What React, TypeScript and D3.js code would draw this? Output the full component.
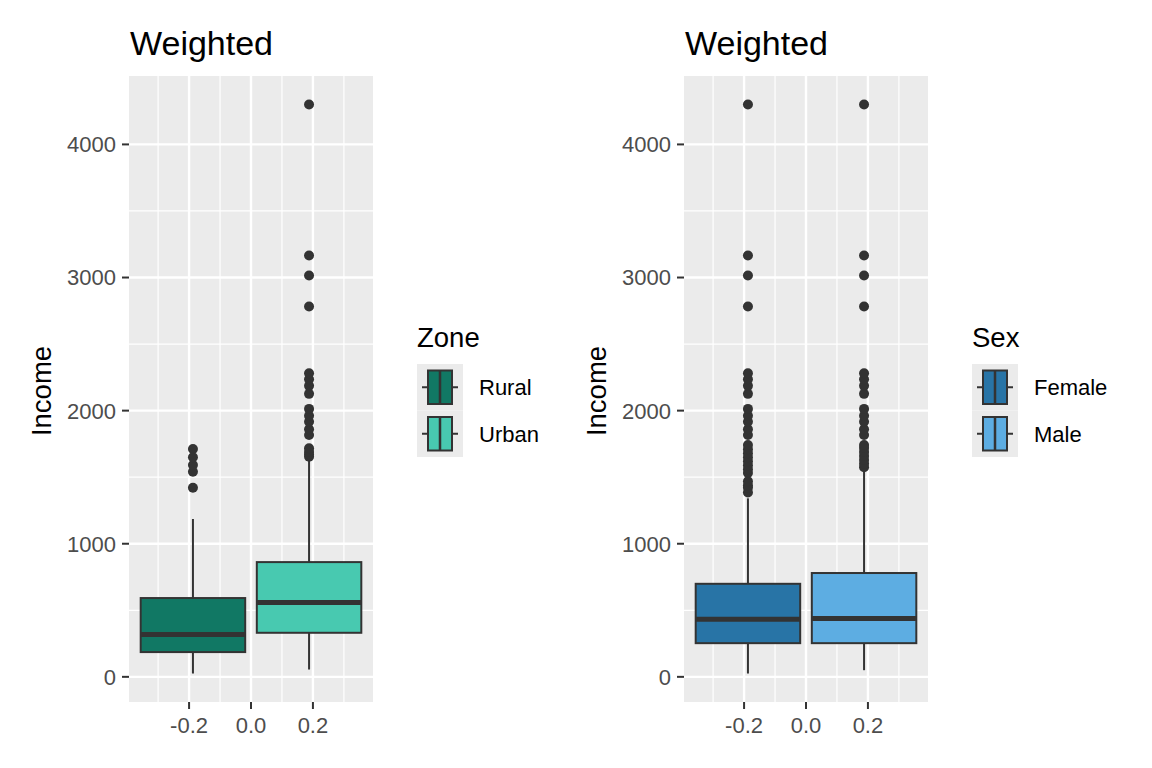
import React from "react";
import * as d3 from "d3";

// box stats: [lower whisker, q1, median, q3, upper whisker]
const zoneGroups = ["Rural", "Urban"];
const zoneColors = ["#117864", "#48C9B0"];
const zoneStats: [number, number, number, number, number][] = [
    [25, 186, 319, 592, 1186],
    [55, 331, 559, 862, 1630],
];
const zoneOutliers: number[][] = [
    [1420, 1541, 1592, 1650, 1712],
    [1654, 1670, 1690, 1717, 1817, 1860, 1917, 1962, 2013, 2126, 2186, 2236, 2281, 2782, 3015, 3166, 4300],
];

const sexGroups = ["Female", "Male"];
const sexColors = ["#2874A6", "#5DADE2"];
const sexStats: [number, number, number, number, number][] = [
    [25, 253, 432, 699, 1341],
    [50, 253, 439, 780, 1560],
];
const sexOutliers: number[][] = [
    [1385, 1420, 1440, 1470, 1531, 1560, 1590, 1620, 1650, 1680, 1710, 1742, 1817, 1860, 1917, 1962, 2013, 2126, 2186, 2236, 2281, 2782, 3015, 3166, 4300],
    [1575, 1600, 1630, 1660, 1690, 1720, 1742, 1817, 1860, 1917, 1962, 2013, 2126, 2186, 2236, 2281, 2782, 3015, 3166, 4300],
];

const yTicks = [0, 1000, 2000, 3000, 4000];
const yMinor = [500, 1500, 2500, 3500];
const xTicks = [-0.2, 0.0, 0.2];
const xMinor = [-0.3, -0.1, 0.1, 0.3];
const groupCenters = [-0.1875, 0.1875];

const font = "'Liberation Sans', Arial, sans-serif";
const panelTop = 76;
const panelBottom = 702;
const panelWidth = 244;
const boxHalf = 0.16875;

interface PanelProps {
    left: number;
    groups: string[];
    colors: string[];
    stats: [number, number, number, number, number][];
    outliers: number[][];
    legendTitle: string;
    legendX: number;
}

function Panel(props: PanelProps) {
    const {left, groups, colors, stats, outliers, legendTitle, legendX} = props;

    const x = d3.scaleLinear()
        .domain([-0.394, 0.394])
        .range([left, left + panelWidth]);
    const y = d3.scaleLinear()
        .domain([-189, 4514])
        .range([panelBottom, panelTop]);

    // R prints a plain hyphen, d3 a unicode minus
    const fmt = (v: number) => d3.format(".1f")(v).replace("\u2212", "-");
    const keyH = 46.5;
    const legendTop = 364;

    return (
        <g>
            <text x={left + 1} y={55} fontSize={34} fontFamily={font} fill="#000">Weighted</text>
            <rect x={left} y={panelTop} width={panelWidth} height={panelBottom - panelTop} fill="#EBEBEB"/>
            {yMinor.map(v => (
                <line key={"ym" + v} x1={left} x2={left + panelWidth} y1={y(v)} y2={y(v)} stroke="#fff" strokeWidth={1.2}/>
            ))}
            {xMinor.map(v => (
                <line key={"xm" + v} x1={x(v)} x2={x(v)} y1={panelTop} y2={panelBottom} stroke="#fff" strokeWidth={1.2}/>
            ))}
            {yTicks.map(v => (
                <line key={"yM" + v} x1={left} x2={left + panelWidth} y1={y(v)} y2={y(v)} stroke="#fff" strokeWidth={2.4}/>
            ))}
            {xTicks.map(v => (
                <line key={"xM" + v} x1={x(v)} x2={x(v)} y1={panelTop} y2={panelBottom} stroke="#fff" strokeWidth={2.4}/>
            ))}

            {groups.map((g, i) => {
                const [lo, q1, med, q3, hi] = stats[i];
                const cx = x(groupCenters[i]);
                const x0 = x(groupCenters[i] - boxHalf);
                const x1 = x(groupCenters[i] + boxHalf);
                return (
                    <g key={g}>
                        <line x1={cx} x2={cx} y1={y(lo)} y2={y(q1)} stroke="#333" strokeWidth={2}/>
                        <line x1={cx} x2={cx} y1={y(q3)} y2={y(hi)} stroke="#333" strokeWidth={2}/>
                        <rect x={x0} y={y(q3)} width={x1 - x0} height={y(q1) - y(q3)}
                              fill={colors[i]} stroke="#333" strokeWidth={2}/>
                        <line x1={x0} x2={x1} y1={y(med)} y2={y(med)} stroke="#333" strokeWidth={5}/>
                        {outliers[i].map((o, j) => (
                            <circle key={j} cx={cx} cy={y(o)} r={5} fill="#333"/>
                        ))}
                    </g>
                );
            })}

            {yTicks.map(v => (
                <g key={"yt" + v}>
                    <line x1={left - 7} x2={left} y1={y(v)} y2={y(v)} stroke="#333" strokeWidth={2}/>
                    <text x={left - 13} y={y(v)} dy="0.36em" textAnchor="end" fontSize={22}
                          fontFamily={font} fill="#4D4D4D">{v}</text>
                </g>
            ))}
            {xTicks.map(v => (
                <g key={"xt" + v}>
                    <line x1={x(v)} x2={x(v)} y1={panelBottom} y2={panelBottom + 7} stroke="#333" strokeWidth={2}/>
                    <text x={x(v)} y={733} textAnchor="middle" fontSize={22}
                          fontFamily={font} fill="#4D4D4D">{fmt(v)}</text>
                </g>
            ))}
            <text transform={`translate(${left - 78},${(panelTop + panelBottom) / 2 + 2}) rotate(-90)`}
                  textAnchor="middle" fontSize={27.5} fontFamily={font} fill="#000">Income</text>

            <text x={legendX} y={347} fontSize={27.5} fontFamily={font} fill="#000">{legendTitle}</text>
            {groups.map((g, i) => {
                const top = legendTop + i * keyH;
                const cy = top + keyH / 2;
                return (
                    <g key={"lg" + g}>
                        <rect x={legendX} y={top} width={46} height={keyH} fill="#EBEBEB"/>
                        <line x1={legendX + 5} x2={legendX + 41} y1={cy} y2={cy} stroke="#333" strokeWidth={2}/>
                        <rect x={legendX + 11} y={top + 6.5} width={24} height={keyH - 13}
                              fill={colors[i]} stroke="#333" strokeWidth={2}/>
                        <line x1={legendX + 23} x2={legendX + 23} y1={top + 6.5} y2={top + keyH - 6.5}
                              stroke="#333" strokeWidth={2.5}/>
                        <text x={legendX + 62} y={cy} dy="0.36em" fontSize={22} fontFamily={font}
                              fill="#000">{g}</text>
                    </g>
                );
            })}
        </g>
    );
}

export default function App() {
    return (
        <svg width={1152} height={768} style={{position: "absolute", left: 0, top: 0, background: "white"}}>
            <Panel left={129} groups={zoneGroups} colors={zoneColors} stats={zoneStats}
                   outliers={zoneOutliers} legendTitle="Zone" legendX={417}/>
            <Panel left={684} groups={sexGroups} colors={sexColors} stats={sexStats}
                   outliers={sexOutliers} legendTitle="Sex" legendX={972}/>
        </svg>
    );
}
